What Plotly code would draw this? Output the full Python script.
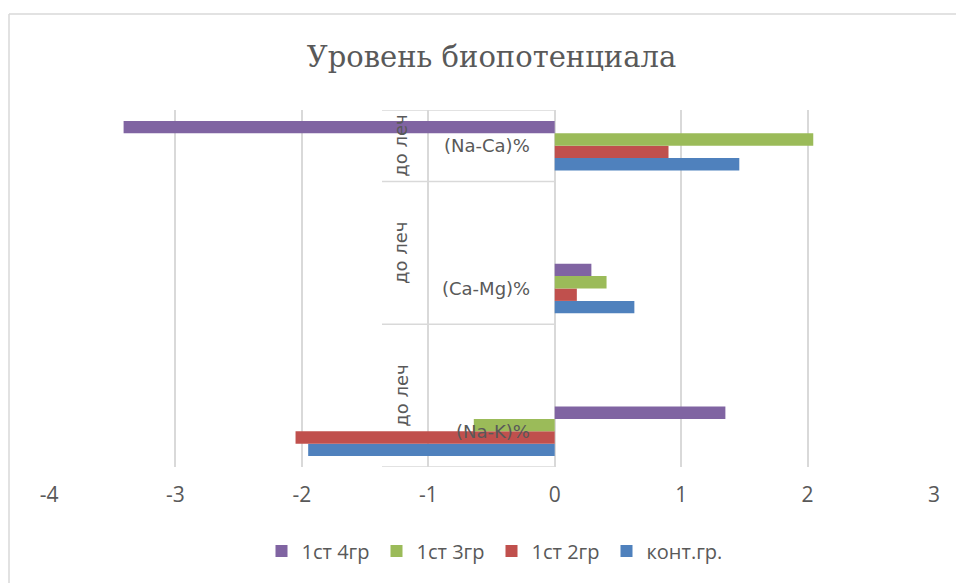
import plotly.graph_objects as go

categories = ["(Na-K)%", "(Ca-Mg)%", "(Na-Ca)%"]
outer_label = "до леч"
series_names = ["конт.гр.", "1ст 2гр", "1ст 3гр", "1ст 4гр"]
kont = [-1.95, 0.63, 1.46]
gr2 = [-2.05, 0.175, 0.90]
gr3 = [-0.64, 0.41, 2.045]
gr4 = [1.35, 0.29, -3.41]
colors = ["#4F81BD", "#C0504D", "#9BBB59", "#8064A2"]
x_ticks = [-4, -3, -2, -1, 0, 1, 2, 3]
x_tick_labels = ["-4", "-3", "-2", "-1", "0", "1", "2", "3"]
title_text = "Уровень биопотенциала"

TXT = "#595959"
GRID = "#D9D9D9"

W, H = 956, 583
ML, MT, MR, MB = 49, 110, 22, 116
plot_h = H - MT - MB
plot_w = W - ML - MR

fig = go.Figure()
for name, vals, col in zip(series_names, [kont, gr2, gr3, gr4], colors):
    fig.add_trace(go.Bar(
        y=categories, x=vals, name=name, orientation="h",
        marker=dict(color=col, line=dict(width=0)),
    ))

box_left = -1.366
n = len(categories)
y_lo, y_hi = -0.25, n - 0.75
shapes = []
for i in range(n):
    yy = i - 0.25
    shapes.append(dict(type="line", xref="x", yref="y", x0=box_left, x1=0, y0=yy, y1=yy,
                       line=dict(color=GRID, width=1.5), layer="above"))
shapes.append(dict(type="line", xref="x", yref="y", x0=box_left, x1=0, y0=y_hi, y1=y_hi,
                   line=dict(color=GRID, width=1.5), layer="above"))
# chart-area border: only left and top edges are visible in the frame
bx0 = (9 - ML) / plot_w
by1 = 1 + (MT - 14) / plot_h
shapes.append(dict(type="line", xref="paper", yref="paper", x0=bx0, x1=1.5, y0=by1, y1=by1,
                   line=dict(color=GRID, width=1.5), layer="below"))
shapes.append(dict(type="line", xref="paper", yref="paper", x0=bx0, x1=bx0, y0=-1.0, y1=by1,
                   line=dict(color=GRID, width=1.5), layer="below"))

annotations = []
for i, c in enumerate(categories):
    annotations.append(dict(x=-0.18, y=i, xref="x", yref="y", text=c, showarrow=False,
                            xanchor="right", yanchor="middle",
                            font=dict(family="DejaVu Sans", size=18, color=TXT)))
    lo = i - 0.25
    hi = min(i + 0.75, y_hi)
    annotations.append(dict(x=-1.215, y=(lo + hi) / 2, xref="x", yref="y", text=outer_label,
                            showarrow=False, textangle=-90, xanchor="center", yanchor="middle",
                            font=dict(family="DejaVu Sans", size=18, color=TXT)))

fig.update_layout(
    width=W, height=H,
    margin=dict(l=ML, r=MR, t=MT, b=MB, pad=0),
    paper_bgcolor="white", plot_bgcolor="white",
    barmode="group", bargap=0.653, bargroupgap=0,
    title=dict(text=title_text, x=0.5, xref="paper", xanchor="center",
               y=1 - 57 / H, yanchor="middle",
               font=dict(family="DejaVu Serif", size=29, color=TXT)),
    xaxis=dict(range=[-4, 3], tickvals=x_ticks, ticktext=x_tick_labels,
               showgrid=True, gridcolor=GRID, gridwidth=1.5,
               zeroline=True, zerolinecolor=GRID, zerolinewidth=1.5,
               showline=False, ticks="", ticklabelstandoff=13,
               tickfont=dict(family="Open Sans", size=21, color=TXT)),
    yaxis=dict(range=[y_lo, y_hi], showticklabels=False, showgrid=False, zeroline=False,
               showline=False, ticks=""),
    legend=dict(orientation="h", x=0.5, xanchor="center", xref="paper",
                y=-(551 - 467) / plot_h, yanchor="middle", traceorder="reversed",
                font=dict(family="Open Sans", size=20, color=TXT), itemwidth=30,
                entrywidth=70, entrywidthmode="pixels"),
    shapes=shapes, annotations=annotations, showlegend=True,
)

fig.write_html(
    "out.html",
    config={"displayModeBar": False},
    post_script="document.body.style.margin='0';document.body.style.overflow='hidden';",
)
